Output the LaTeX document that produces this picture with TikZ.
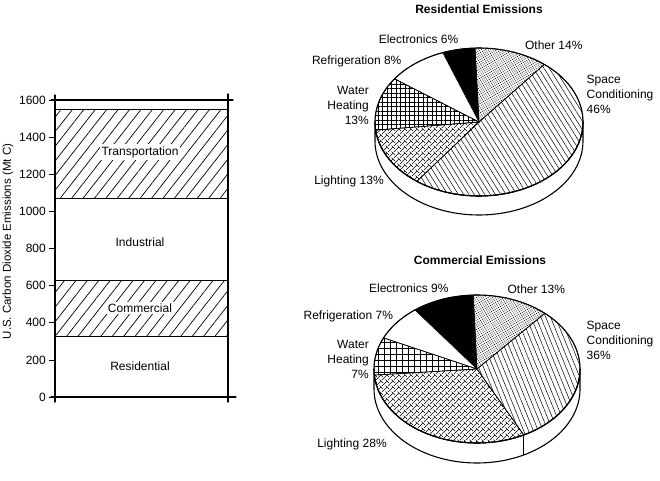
\documentclass[tikz,border=0pt]{standalone}
\usepackage{fontspec}
\setmainfont{Liberation Sans}
\usetikzlibrary{patterns,patterns.meta}
\pgfdeclarepatternformonly{litepat}{\pgfqpoint{-1pt}{-1pt}}{\pgfqpoint{7pt}{7pt}}{\pgfqpoint{6pt}{6pt}}{%
  \pgfsetlinewidth{0.5pt}%
  \pgfpathmoveto{\pgfqpoint{0pt}{0pt}}\pgfpathlineto{\pgfqpoint{3pt}{3pt}}\pgfpathlineto{\pgfqpoint{5pt}{1pt}}%
  \pgfpathmoveto{\pgfqpoint{3pt}{3pt}}\pgfpathlineto{\pgfqpoint{1.5pt}{4.5pt}}%
  \pgfpathmoveto{\pgfqpoint{4pt}{4pt}}\pgfpathlineto{\pgfqpoint{6pt}{6pt}}%
  \pgfusepath{stroke}}
\newcommand\pieslc[3]{\draw[slice,#1] (0,0) -- (#2:\rx\space and \ry) arc[start angle=#2,end angle=#3,x radius=\rx,y radius=\ry] -- cycle;}
\begin{document}
\begin{tikzpicture}[x=1pt,y=1pt,
  lbl/.style={font=\fontsize{12}{15}\selectfont, inner sep=1pt},
  ttl/.style={font=\fontsize{12}{15}\selectfont\bfseries, inner sep=1pt},
  tick/.style={font=\fontsize{12}{14}\selectfont, anchor=east, inner sep=1pt},
  slice/.style={draw=black, line width=0.6pt},
  rim/.style={draw=black, line width=1.1pt},
  axisline/.style={line width=1.1pt, line cap=round},
  barhatch/.style={pattern={Lines[angle=52,distance=9pt,line width=0.7pt]}},
  stipple/.style={pattern={Dots[distance=2pt,radius=0.55pt,angle=30]}},
]
\useasboundingbox (0,0) rectangle (660,480);

% ---------- bar chart ----------
\fill[barhatch] (55,281.5) rectangle (228,370.5);
\fill[barhatch] (55,144) rectangle (228,200);
\draw[line width=0.8pt] (55,370.5) -- (228,370.5);
\draw[line width=0.8pt] (55,281.5) -- (228,281.5);
\draw[line width=0.8pt] (55,200) -- (228,200);
\draw[line width=0.8pt] (55,144) -- (228,144);
\draw[axisline] (55,78) -- (55,385);
\draw[axisline] (51,380) -- (233,380);
\draw[axisline] (228,386) -- (228,78);
\draw[axisline] (51,83) -- (236,83);
\foreach \v in {0,200,...,1600}{
  \draw[line width=0.8pt] (49,{83+\v*0.1855}) -- (55,{83+\v*0.1855});
  \node[tick] (t\v) at (47,{83+\v*0.1855}) {\v};
}
\node[lbl, fill=white, inner sep=2pt] (trn) at (140,328) {Transportation};
\node[lbl] (ind) at (140,238) {Industrial};
\node[lbl, fill=white, inner sep=2pt] (com) at (140,172) {Commercial};
\node[lbl] (res) at (140,114) {Residential};
\node[rotate=90, font=\fontsize{11.5}{14}\selectfont, inner sep=0pt] (ylab) at (8,238.5) {U.S. Carbon Dioxide Emissions (Mt C)};

% ---------- residential pie ----------
\begin{scope}[shift={(479,358)}]
  \def\rx{104}\def\ry{74}
  \filldraw[fill=white, rim] (-104,0) -- (-104,-19) arc[start angle=180,end angle=360,x radius=104,y radius=74] -- (104,0) arc[start angle=0,end angle=-180,x radius=104,y radius=74] -- cycle;
  \pieslc{stipple}{51.1}{92.2}
  \pieslc{fill=black}{92.2}{110.4}
  \pieslc{fill=white}{110.4}{144.3}
  \pieslc{pattern={Hatch[distance=4.5pt,angle=0,line width=0.5pt]}}{144.3}{186.3}
  \pieslc{pattern=litepat}{186.3}{233.3}
  \pieslc{pattern={Lines[angle=-58,distance=4.5pt,line width=0.5pt]}}{233.3}{411.1}
  \draw[rim] (0,0) ellipse[x radius=104, y radius=74];
\end{scope}
\node[ttl] (rt) at (479,470.7) {Residential Emissions};
\node[lbl] (re) at (418.5,440.7) {Electronics 6\%};
\node[lbl] (ro) at (553.8,434.3) {Other 14\%};
\node[lbl] (rr) at (356.7,419) {Refrigeration 8\%};
\node[lbl, anchor=east, align=right] (rw) at (370,375) {Water\\Heating\\13\%};
\node[lbl, anchor=west, align=left] (rs) at (585.5,386) {Space\\Conditioning\\46\%};
\node[lbl] (rl) at (349,298.3) {Lighting 13\%};

% ---------- commercial pie ----------
\begin{scope}[shift={(477,111)}]
  \def\rx{103}\def\ry{74}
  \filldraw[fill=white, rim] (-103,0) -- (-103,-20) arc[start angle=180,end angle=360,x radius=103,y radius=74] -- (103,0) arc[start angle=0,end angle=-180,x radius=103,y radius=74] -- cycle;
  \draw[slice] (297:103 and 74) -- ++(0,-20);
  \pieslc{stipple}{48.8}{92.1}
  \pieslc{fill=black}{92.1}{127.1}
  \pieslc{fill=white}{127.1}{155.1}
  \pieslc{pattern={Hatch[distance=6pt,angle=0,line width=0.5pt]}}{155.1}{184.7}
  \pieslc{pattern=litepat}{184.7}{297}
  \pieslc{pattern={Lines[angle=-68,distance=4.5pt,line width=0.5pt]}}{297}{408.8}
  \draw[rim] (0,0) ellipse[x radius=103, y radius=74];
\end{scope}
\node[ttl] (ct) at (480,220) {Commercial Emissions};
\node[lbl] (ce) at (408.8,191.7) {Electronics 9\%};
\node[lbl] (co) at (536.3,190.7) {Other 13\%};
\node[lbl] (cr) at (348.3,164) {Refrigeration 7\%};
\node[lbl, anchor=east, align=right] (cw) at (370,121) {Water\\Heating\\7\%};
\node[lbl, anchor=west, align=left] (cs) at (585.5,139.3) {Space\\Conditioning\\36\%};
\node[lbl] (cl) at (352,36) {Lighting 28\%};
\end{tikzpicture}
\end{document}
